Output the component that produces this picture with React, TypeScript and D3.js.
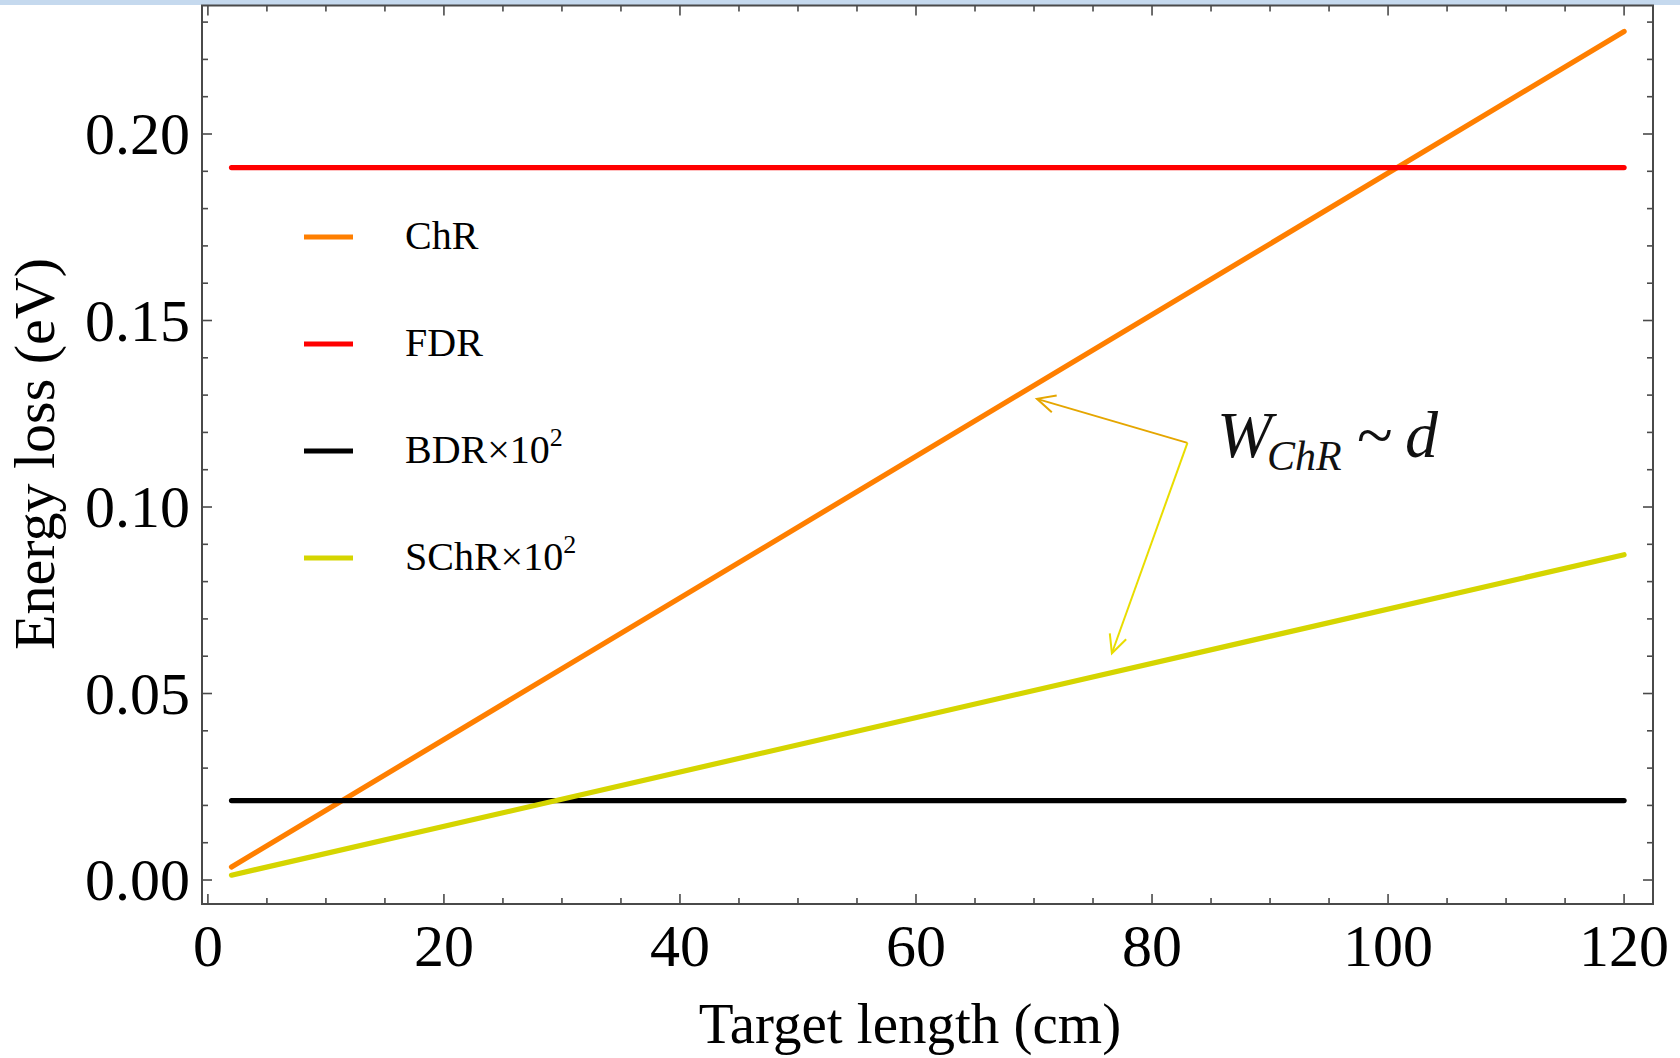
import React from 'react';
import * as d3 from 'd3';

// target length (cm) at the two ends of every curve
const lengths = [2, 120];

// energy loss (eV)
const chrValues = [0.0035, 0.2275];
const fdrValues = [0.191, 0.191];
const bdrValues = [0.0213, 0.0213];
const schrValues = [0.0013, 0.0872];

const seriesNames = ['ChR', 'FDR', 'BDR', 'SChR'];
const seriesColors = ['#ff7f00', '#ff0000', '#000000', '#d5d500'];
const seriesSuper = ['', '', '2', '2'];

const xTickValues = [0, 20, 40, 60, 80, 100, 120];
const yTickValues = [0, 0.05, 0.1, 0.15, 0.2];

// annotation anchors in data units: [x, y]
const arrowJoint = [83.0, 0.1172];
const arrowTips = [[70.25, 0.1290], [76.6, 0.0608]];
const arrowColors = ['#e5a600', '#e9dd00'];
const notePos = [85.5, 0.1134];

const W = 1680;
const H = 1058;
const serif = '"Liberation Serif", "Times New Roman", serif';

const App = () => {
  const x = d3.scaleLinear().domain([-0.5, 122.45]).range([202, 1653]);
  const y = d3.scaleLinear().domain([-0.00643, 0.23445]).range([904, 5.5]);

  const [x0, x1] = x.range();
  const [y0, y1] = y.range();

  const series = [chrValues, fdrValues, bdrValues, schrValues];
  const line = d3
    .line<number>()
    .x((_, i) => x(lengths[i]))
    .y((d) => y(d));

  const xMinor = x.ticks(24).filter((t) => t >= 0 && !xTickValues.includes(t));
  const yMinor = y.ticks(24).filter((t) => !yTickValues.some((v) => Math.abs(v - t) < 1e-9));
  const fmt = d3.format('.2f');

  // open arrowhead
  const head = (tx: number, ty: number, fx: number, fy: number) => {
    const a = Math.atan2(fy - ty, fx - tx);
    const len = 20;
    const spread = 0.45;
    const p1 = [tx + len * Math.cos(a + spread), ty + len * Math.sin(a + spread)];
    const p2 = [tx + len * Math.cos(a - spread), ty + len * Math.sin(a - spread)];
    return `M${p1[0]},${p1[1]}L${tx},${ty}L${p2[0]},${p2[1]}`;
  };

  const jx = x(arrowJoint[0]);
  const jy = y(arrowJoint[1]);

  return (
    <svg
      width={W}
      height={H}
      style={{ position: 'absolute', left: 0, top: 0, background: '#fff' }}
      fontFamily={serif}
    >
      <rect x={0} y={0} width={W} height={H} fill="#fff" />
      <rect x={0} y={0} width={W} height={5} fill="#c5d9ee" />

      {/* curves */}
      <g fill="none" strokeWidth={5.2} strokeLinecap="round">
        {series.map((vals, i) => (
          <path key={seriesNames[i]} d={line(vals) || ''} stroke={seriesColors[i]} />
        ))}
      </g>

      {/* frame */}
      <rect x={x0} y={y1} width={x1 - x0} height={y0 - y1} fill="none" stroke="#4a4a4a" strokeWidth={2} />

      {/* ticks on all four sides */}
      <g stroke="#4a4a4a" strokeWidth={1.6}>
        {xTickValues.map((t) => (
          <g key={'xt' + t}>
            <line x1={x(t)} x2={x(t)} y1={y0} y2={y0 - 10} />
            <line x1={x(t)} x2={x(t)} y1={y1} y2={y1 + 10} />
          </g>
        ))}
        {xMinor.map((t) => (
          <g key={'xm' + t}>
            <line x1={x(t)} x2={x(t)} y1={y0} y2={y0 - 6} />
            <line x1={x(t)} x2={x(t)} y1={y1} y2={y1 + 6} />
          </g>
        ))}
        {yTickValues.map((t) => (
          <g key={'yt' + t}>
            <line x1={x0} x2={x0 + 10} y1={y(t)} y2={y(t)} />
            <line x1={x1} x2={x1 - 10} y1={y(t)} y2={y(t)} />
          </g>
        ))}
        {yMinor.map((t) => (
          <g key={'ym' + t}>
            <line x1={x0} x2={x0 + 6} y1={y(t)} y2={y(t)} />
            <line x1={x1} x2={x1 - 6} y1={y(t)} y2={y(t)} />
          </g>
        ))}
      </g>

      {/* tick labels */}
      <g fontSize={60} fill="#000">
        {xTickValues.map((t) => (
          <text key={'xl' + t} x={x(t)} y={966} textAnchor="middle">
            {t}
          </text>
        ))}
        {yTickValues.map((t) => (
          <text key={'yl' + t} x={x0 - 12} y={y(t) + 20} textAnchor="end">
            {fmt(t)}
          </text>
        ))}
      </g>

      {/* axis titles */}
      <text x={910} y={1043} fontSize={57} textAnchor="middle">
        Target length (cm)
      </text>
      <text transform="translate(54,454) rotate(-90)" fontSize={58} textAnchor="middle">
        Energy loss (eV)
      </text>

      {/* legend */}
      {seriesNames.map((name, i) => {
        const ly = 237 + i * 107;
        return (
          <g key={'lg' + name}>
            <line x1={304} x2={353} y1={ly} y2={ly} stroke={seriesColors[i]} strokeWidth={5.2} />
            <text x={405} y={ly + 12} fontSize={40}>
              {name}
              {seriesSuper[i] && (
                <>
                  <tspan>×10</tspan>
                  <tspan fontSize={26} dy={-17}>
                    {seriesSuper[i]}
                  </tspan>
                </>
              )}
            </text>
          </g>
        );
      })}

      {/* arrows */}
      {arrowTips.map((tip, i) => {
        const tx = x(tip[0]);
        const ty = y(tip[1]);
        return (
          <g key={'ar' + i} fill="none" stroke={arrowColors[i]} strokeWidth={2}>
            <line x1={jx} y1={jy} x2={tx} y2={ty} />
            <path d={head(tx, ty, jx, jy)} />
          </g>
        );
      })}

      {/* W_ChR ~ d */}
      <text
        x={x(notePos[0])}
        y={y(notePos[1])}
        fontSize={66}
        fontStyle="italic"
        fill="#111"
      >
        <tspan>W</tspan>
        <tspan x={x(notePos[0]) + 50} dy={13} fontSize={42}>
          ChR
        </tspan>
        <tspan x={x(notePos[0]) + 140} dy={-13} fontStyle="normal">
          ~
        </tspan>
        <tspan x={x(notePos[0]) + 188}>d</tspan>
      </text>
    </svg>
  );
};

export default App;
